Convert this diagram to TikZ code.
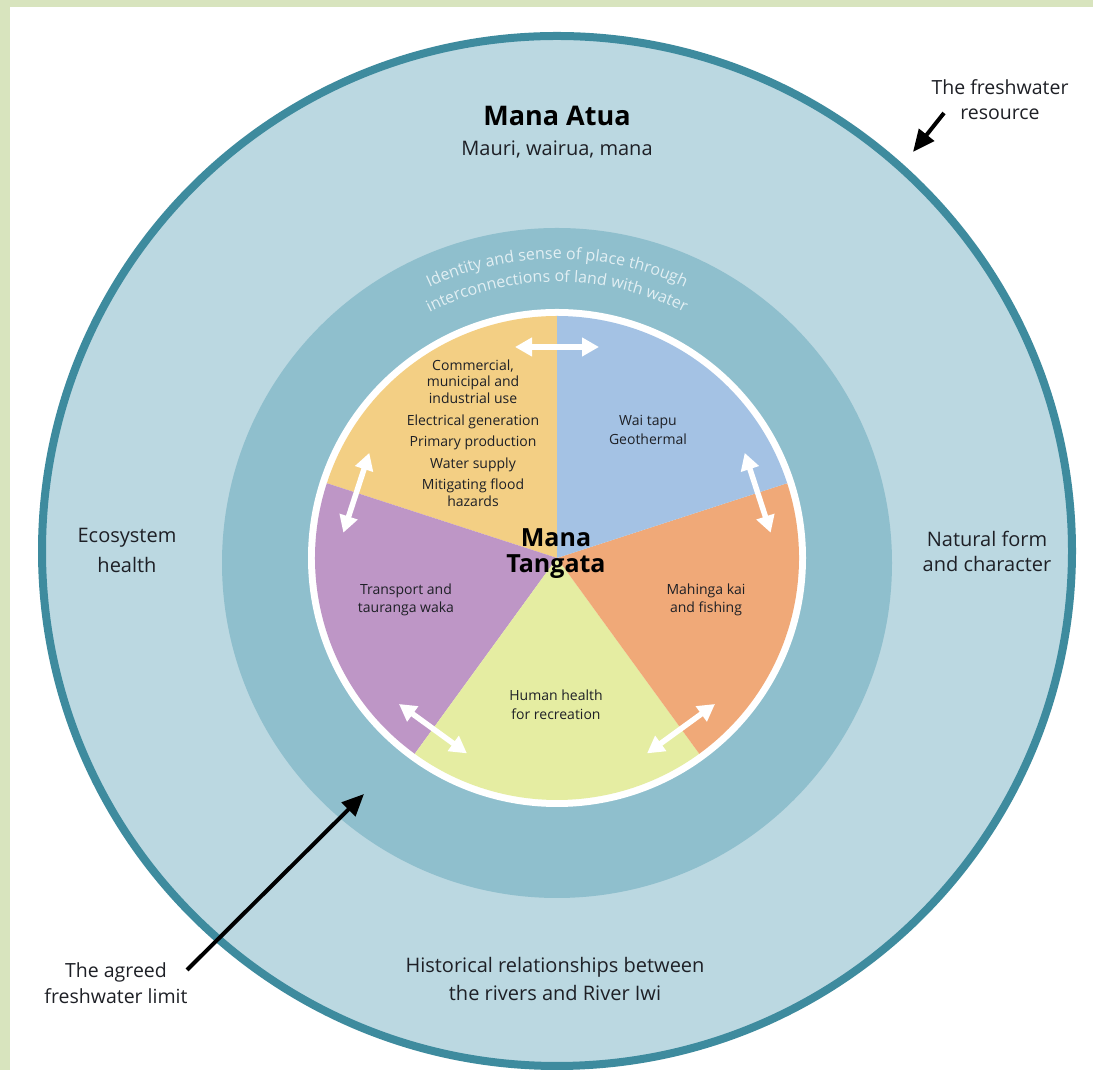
\documentclass[tikz,border=0pt]{standalone}
\usepackage{fontspec}
\setmainfont{Open Sans}
\usetikzlibrary{arrows.meta,decorations.text}

\definecolor{frame}{RGB}{216,228,190}
\definecolor{outerfill}{RGB}{187,216,225}
\definecolor{outerline}{RGB}{62,139,158}
\definecolor{ringfill}{RGB}{143,191,205}
\definecolor{ringtext}{RGB}{226,239,243}
\definecolor{secyellow}{RGB}{243,207,132}
\definecolor{secblue}{RGB}{164,194,228}
\definecolor{secorange}{RGB}{240,169,120}
\definecolor{secgreen}{RGB}{229,237,162}
\definecolor{secpurple}{RGB}{190,150,198}
\definecolor{ink}{RGB}{30,32,38}

\begin{document}
\begin{tikzpicture}[x=1pt,y=1pt,
  lbl/.style={text=ink, inner sep=0pt, anchor=base, font=\fontsize{20}{20}\selectfont},
  note/.style={text=ink, inner sep=0pt, anchor=base, font=\fontsize{19.5}{19.5}\selectfont},
  pielbl/.style={text=ink, inner sep=0pt, anchor=base, font=\fontsize{14}{14}\selectfont},
  title/.style={text=black, inner sep=0pt, anchor=base, font=\bfseries\fontsize{27}{27}\selectfont},
  pointer/.style={line width=4pt, draw=black, -{Triangle[length=22pt,width=19pt]}},
  link/.style={line width=5.5pt, draw=white, {Triangle[length=17pt,width=18pt]}-{Triangle[length=17pt,width=18pt]}},
  ringlbl/.style={decorate, decoration={text along path, text align=center,
    text={|\fontsize{16}{16}\selectfont\color{ringtext}|#1}}},
]
\useasboundingbox (0,0) rectangle (1093,1070);
\fill[white] (0,0) rectangle (1093,1070);
\fill[frame] (0,0) rectangle (10,1070);
\fill[frame] (0,1063) rectangle (1093,1070);

\coordinate (oc) at (557,519);
\coordinate (mc) at (557,507);
\coordinate (pc) at (557,512);

% freshwater resource and limit rings
\draw[outerline, fill=outerfill, line width=8pt] (oc) circle[radius=515];
\fill[ringfill] (mc) circle[radius=335];
\fill[white] (pc) circle[radius=249];

% five sectors of Mana Tangata
\fill[secyellow] (pc) -- ++(90:242)  arc[start angle=90,  end angle=162, radius=242] -- cycle;
\fill[secpurple] (pc) -- ++(162:242) arc[start angle=162, end angle=234, radius=242] -- cycle;
\fill[secgreen]  (pc) -- ++(234:242) arc[start angle=234, end angle=306, radius=242] -- cycle;
\fill[secorange] (pc) -- ++(306:242) arc[start angle=306, end angle=378, radius=242] -- cycle;
\fill[secblue]   (pc) -- ++(18:242)  arc[start angle=18,  end angle=90,  radius=242] -- cycle;

% two-way links across sector borders
\foreach \a in {90,162,234,306,18}{
  \coordinate (lk\a a) at ([shift={(\a:211)}]pc);
  \draw[link] ([shift={(\a+90:42)}]lk\a a) -- ([shift={(\a-90:42)}]lk\a a);
}

% curved text on the limit ring
\path[ringlbl={Identity and sense of place through}]
  ([shift={(150:304)}]mc) arc[start angle=150, end angle=30, radius=304];
\path[ringlbl={interconnections of land with water}]
  ([shift={(150:281)}]mc) arc[start angle=150, end angle=30, radius=281];

% outer ring labels
\node[title] (atua) at (557,944) {Mana Atua};
\node[lbl] (atuasub) at (557,914) {Mauri, wairua, mana};
\node[lbl] (eco1) at (127,527) {Ecosystem};
\node[lbl] (eco2) at (127,497) {health};
\node[lbl] (nat1) at (987,523) {Natural form};
\node[lbl] (nat2) at (987,498) {and character};
\node[lbl] (hist1) at (555,97) {Historical relationships between};
\node[lbl] (hist2) at (555,69) {the rivers and River Iwi};

% annotations outside the rings
\node[note] (res1) at (1000,975) {The freshwater};
\node[note] (res2) at (1000,950) {resource};
\node[note] (lim1) at (116,92) {The agreed};
\node[note] (lim2) at (116,66) {freshwater limit};
\coordinate (restail) at (944,957);
\coordinate (restip) at (913,918);
\coordinate (limtail) at (187,100);
\coordinate (limtip) at (364,276);
\draw[pointer] (restail) -- (restip);
\draw[pointer] (limtail) -- (limtip);

% centre
\node[title, font=\bfseries\fontsize{25}{25}\selectfont] (mt1) at (556,523) {Mana};
\node[title, font=\bfseries\fontsize{25}{25}\selectfont] (mt2) at (556,497) {Tangata};

% sector texts
\node[pielbl] (y1) at (473,699) {Commercial,};
\node[pielbl] (y2) at (473,683) {municipal and};
\node[pielbl] (y3) at (473,666) {industrial use};
\node[pielbl] (y4) at (473,644) {Electrical generation};
\node[pielbl] (y5) at (473,623) {Primary production};
\node[pielbl] (y6) at (473,601) {Water supply};
\node[pielbl] (y7) at (473,580) {Mitigating flood};
\node[pielbl] (y8) at (473,563) {hazards};
\node[pielbl] (b1) at (648,644) {Wai tapu};
\node[pielbl] (b2) at (648,625) {Geothermal};
\node[pielbl] (o1) at (706,475) {Mahinga kai};
\node[pielbl] (o2) at (706,457) {and fishing};
\node[pielbl] (p1) at (406,475) {Transport and};
\node[pielbl] (p2) at (406,457) {tauranga waka};
\node[pielbl] (g1) at (556,369) {Human health};
\node[pielbl] (g2) at (556,350) {for recreation};
\end{tikzpicture}
\end{document}
